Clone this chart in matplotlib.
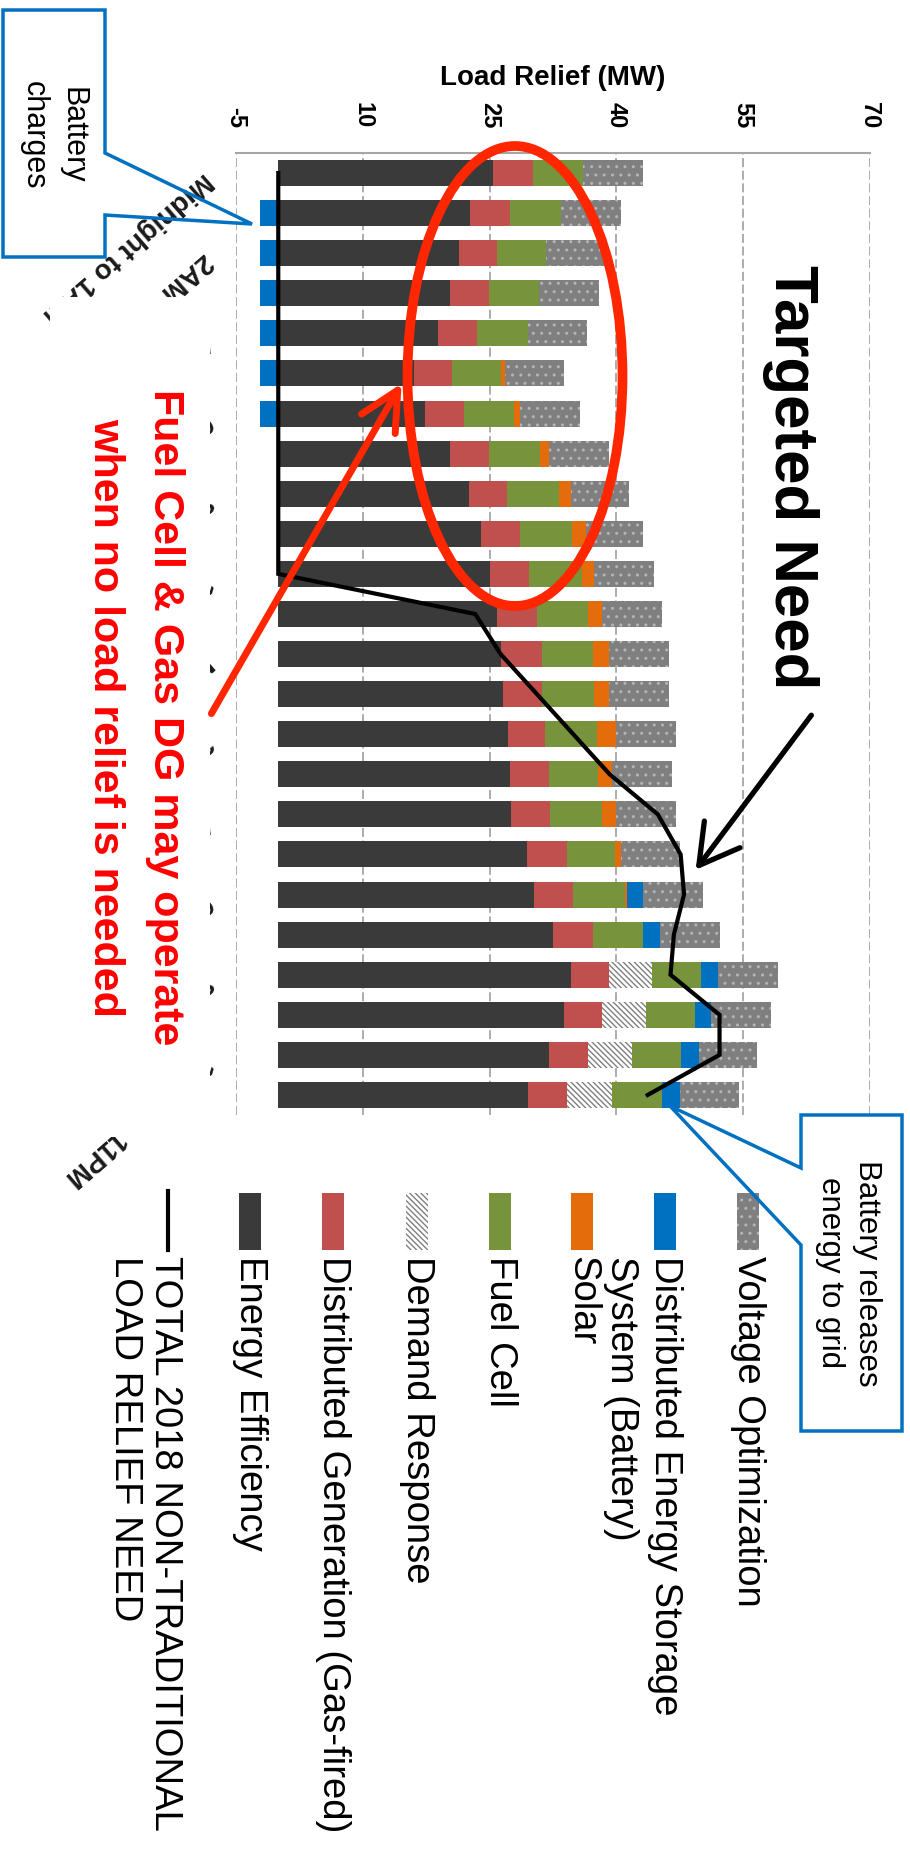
import numpy as np
import matplotlib
matplotlib.use("Agg")
import matplotlib.pyplot as plt
from matplotlib.patches import Rectangle, Polygon, Ellipse, FancyArrowPatch
from matplotlib.lines import Line2D

plt.rcParams["font.family"] = ["Liberation Sans", "DejaVu Sans"]
plt.rcParams["hatch.linewidth"] = 1.0

W, H = 910, 1853  # canvas size in pixels

hours = ["Midnight to 1AM", "1AM to 2AM", "2AM to 3AM", "3AM to 4AM", "4AM to 5AM",
         "5AM to 6AM", "6AM to 7AM", "7AM to 8AM", "8AM to 9AM", "9AM to 10AM",
         "10AM to 11AM", "11AM to Noon", "Noon to 1PM", "1PM to 2PM", "2PM to 3PM",
         "3PM to 4PM", "4PM to 5PM", "5PM to 6PM", "6PM to 7PM", "7PM to 8PM",
         "8PM to 9PM", "9PM to 10PM", "10PM to 11PM", "11PM to Midnight"]

# load relief by resource, MW
energy_eff = [25.4, 22.7, 21.4, 20.3, 18.9, 16.0, 17.4, 20.3, 22.6, 24.0, 25.1, 25.9,
              26.3, 26.6, 27.2, 27.4, 27.5, 29.4, 30.3, 32.5, 34.6, 33.8, 32.0, 29.5]
dist_gen = [4.7, 4.7, 4.5, 4.6, 4.6, 4.6, 4.6, 4.6, 4.5, 4.6, 4.6, 4.7,
            4.9, 4.6, 4.3, 4.6, 4.7, 4.7, 4.6, 4.7, 4.5, 4.5, 4.6, 4.7]
demand_resp = [0, 0, 0, 0, 0, 0, 0, 0, 0, 0, 0, 0,
               0, 0, 0, 0, 0, 0, 0, 0, 5.1, 5.2, 5.2, 5.3]
fuel_cell = [5.9, 6.1, 5.8, 5.9, 6.0, 5.7, 5.9, 6.1, 6.1, 6.2, 6.2, 6.0,
             6.0, 6.1, 6.2, 5.8, 6.1, 5.7, 6.1, 6.0, 5.8, 5.8, 5.8, 5.9]
solar = [0, 0, 0, 0, 0, 0.5, 0.7, 1.0, 1.4, 1.6, 1.5, 1.7,
         1.9, 1.8, 2.3, 1.7, 1.7, 0.7, 0.3, 0, 0, 0, 0, 0]
battery = [0, -2.2, -2.2, -2.2, -2.2, -2.2, -2.2, 0, 0, 0, 0, 0,
           0, 0, 0, 0, 0, 0, 1.9, 2.0, 2.0, 1.9, 2.2, 2.1]
volt_opt = [7.1, 7.0, 6.9, 7.1, 7.0, 7.0, 7.1, 7.1, 6.9, 6.8, 7.1, 7.1,
            7.1, 7.1, 7.1, 7.1, 7.1, 7.0, 7.1, 7.0, 7.1, 7.1, 6.8, 7.0]
need = [0, 0, 0, 0, 0, 0, 0, 0, 0, 0, 0, 23.3,
        26.3, 30.6, 34.9, 39.2, 44.9, 47.6, 48.0, 46.8, 46.4, 52.2, 52.2, 43.7]

x_ticks = [-5, 10, 25, 40, 55, 70]

# name, values, face, hatch, hatch colour (stacking order from zero)
series = [
    ("Energy Efficiency", energy_eff, "#3a3a3a", None, None),
    ("Distributed Generation (Gas-fired)", dist_gen, "#c0504d", None, None),
    ("Demand Response", demand_resp, "white", "\\\\\\\\\\\\", "#808080"),
    ("Fuel Cell", fuel_cell, "#77933c", None, None),
    ("Solar", solar, "#e46c0a", None, None),
    ("Distributed Energy Storage\nSystem (Battery)", battery, "#0070c0", None, None),
    ("Voltage Optimization", volt_opt, "#7f7f7f", "..", "#b4b4b4"),
]

BLUE = "#0070c0"
RED = "#ff2600"


def fx(x):
    return x / W


def fy(y):
    return 1 - y / H


fig = plt.figure(figsize=(W / 100, H / 100), dpi=100)
ax = fig.add_axes([fx(236), fy(1115), (870 - 236) / W, (1115 - 153) / H])

y = np.arange(len(hours))
cum = np.zeros(len(hours))
for name, vals, face, hatch, hcol in series:
    vals = np.array(vals, dtype=float)
    left = np.where(vals >= 0, cum, 0)
    ax.barh(y, vals, left=left, height=0.65, color=face, hatch=hatch,
            edgecolor=hcol if hcol else face, linewidth=0, zorder=2)
    cum += np.clip(vals, 0, None)

ax.plot(need, y, color="black", lw=3, zorder=4, solid_joinstyle="miter")

ax.set_xlim(-5, 70)
ax.set_ylim(len(hours) - 0.5, -0.5)
ax.set_xticks(x_ticks)
ax.set_xticklabels([str(t) for t in x_ticks], rotation=-90, fontsize=17, fontweight="bold")
ax.xaxis.tick_top()
ax.tick_params(axis="x", length=0, pad=18)
ax.set_yticks([])
ax.grid(axis="x", color="#a6a6a6", lw=1.3, dashes=(5, 2))
ax.set_axisbelow(True)
for side in ["left", "right", "bottom"]:
    ax.spines[side].set_visible(False)
ax.spines["top"].set_color("#a6a6a6")
ax.spines["top"].set_linewidth(1.5)

# hour labels, every second category
for i in range(0, len(hours), 2):
    ax.text(-0.044, i + 0.1, hours[i], transform=ax.get_yaxis_transform(), rotation=221,
            rotation_mode="anchor", ha="left", va="center", fontsize=20,
            fontweight="bold", color="#1a1a1a", clip_on=False)

fig.text(fx(553), fy(78), "Load Relief (MW)", ha="center", va="center",
         fontsize=20, fontweight="bold")

# white text box holding the red note
fig.add_artist(Rectangle((fx(50), fy(1137)), (210 - 50) / W, (1137 - 297) / H,
                         transform=fig.transFigure, facecolor="white",
                         edgecolor="none", zorder=5))
fig.text(fx(165), fy(717), "Fuel Cell & Gas DG may operate", rotation=-90,
         ha="center", va="center", fontsize=31, fontweight="bold",
         color="#ff0000", zorder=6)
fig.text(fx(105), fy(717), "when no load relief is needed", rotation=-90,
         ha="center", va="center", fontsize=31, fontweight="bold",
         color="#ff0000", zorder=6)

# red ellipse and pointer
fig.add_artist(Ellipse((fx(515), fy(376)), 215 / W, 460 / H, transform=fig.transFigure,
                       fill=False, edgecolor=RED, lw=7, zorder=7))
fig.add_artist(FancyArrowPatch((fx(210), fy(716)), (fx(403), fy(381)),
                               transform=fig.transFigure, color=RED, lw=5,
                               arrowstyle="->,head_length=1.4,head_width=0.7",
                               mutation_scale=20, zorder=7))

# targeted need label and arrow
fig.text(fx(790), fy(477), "Targeted Need", rotation=-90, ha="center", va="center",
         fontsize=44.5, fontweight="bold", color="black")
fig.add_artist(FancyArrowPatch((fx(813), fy(713)), (fx(694), fy(872)),
                               transform=fig.transFigure, color="black", lw=3.8,
                               arrowstyle="->,head_length=1.4,head_width=0.8",
                               mutation_scale=20, zorder=7))

# blue callouts
charge_box = [(3, 10), (105, 10), (105, 153), (252, 224), (105, 215), (105, 257), (3, 257)]
fig.add_artist(Polygon([(fx(a), fy(b)) for a, b in charge_box], closed=True,
                       transform=fig.transFigure, fill=False, edgecolor=BLUE,
                       lw=2.5, joinstyle="miter", zorder=8))
fig.text(fx(72), fy(135), "Battery", rotation=-90, ha="center", va="center",
         fontsize=22, color="black", zorder=8)
fig.text(fx(34), fy(135), "charges", rotation=-90, ha="center", va="center",
         fontsize=22, color="black", zorder=8)

release_box = [(801, 1115), (902, 1115), (902, 1431), (801, 1431), (801, 1245),
               (670, 1106), (801, 1168)]
fig.add_artist(Polygon([(fx(a), fy(b)) for a, b in release_box], closed=True,
                       transform=fig.transFigure, fill=False, edgecolor=BLUE,
                       lw=2.5, joinstyle="miter", zorder=8))
fig.text(fx(867), fy(1273), "Battery releases", rotation=-90, ha="center",
         va="center", fontsize=22.5, color="black", zorder=8)
fig.text(fx(830), fy(1273), "energy to grid", rotation=-90, ha="center",
         va="center", fontsize=22.5, color="black", zorder=8)

# legend, drawn column by column
legend_x = [250, 333, 417, 500, 582, 665, 748]
for (name, vals, face, hatch, hcol), cx in zip(series, legend_x):
    fig.add_artist(Rectangle((fx(cx - 11), fy(1250)), 22 / W, 57 / H,
                             transform=fig.transFigure, facecolor=face, hatch=hatch,
                             edgecolor=hcol if hcol else face, linewidth=0))
    for k, line in enumerate(name.split("\n")):
        fig.text(fx(cx - 44 * k), fy(1256), line, rotation=-90, ha="center", va="top",
                 fontsize=27.5, color="black")

fig.add_artist(Line2D([fx(168), fx(168)], [fy(1191), fy(1250)],
                      transform=fig.transFigure, color="black", lw=3))
fig.text(fx(165), fy(1256), "TOTAL 2018 NON-TRADITIONAL", rotation=-90,
         ha="center", va="top", fontsize=27.5, color="black")
fig.text(fx(125), fy(1256), "LOAD RELIEF NEED", rotation=-90,
         ha="center", va="top", fontsize=27.5, color="black")

fig.savefig("out.png", dpi=100)
